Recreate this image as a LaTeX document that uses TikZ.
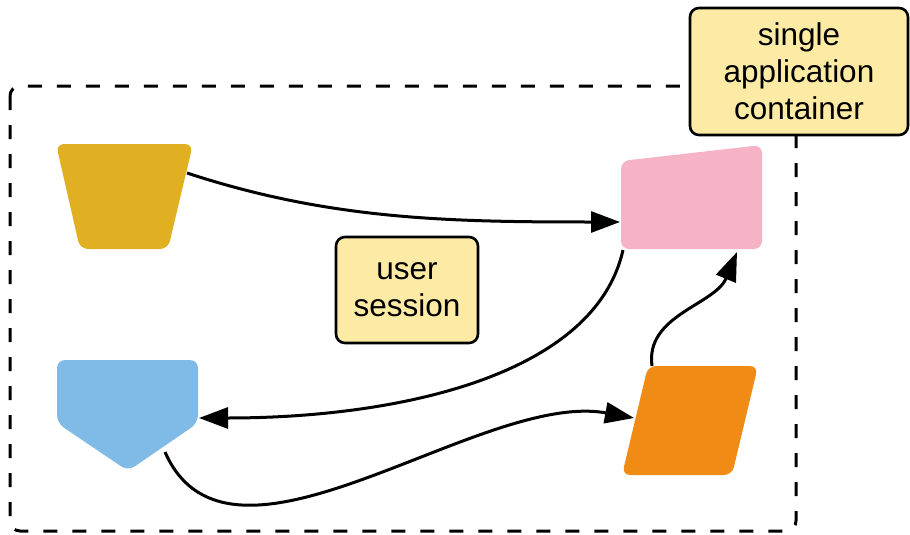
\documentclass[tikz,border=0pt]{standalone}
\usepackage{fontspec}
\setmainfont{Liberation Sans}
\usetikzlibrary{arrows.meta}
\definecolor{cyellow}{HTML}{E0B022}
\definecolor{cblue}{HTML}{80BAE6}
\definecolor{cpink}{HTML}{F6B3C6}
\definecolor{corange}{HTML}{F08B16}
\definecolor{clabel}{HTML}{FDEBA5}
\begin{document}
\begin{tikzpicture}[x=1pt,y=-1pt,
  shapefill/.style={rounded corners=8pt},
  labelbox/.style={draw=black, fill=clabel, line width=2.6pt, rounded corners=9pt,
    font=\fontsize{31.5pt}{37pt}\selectfont, align=center, inner sep=0pt},
  conn/.style={line width=3pt, -{Triangle[length=29pt,width=21pt]}},
]
\useasboundingbox (0,0) rectangle (910,535);
% container
\draw[line width=3pt, dash pattern=on 14pt off 15pt, rounded corners=10pt] (10,86) rectangle (796,531);
% shapes
\fill[cyellow, shapefill] (56,144) -- (193,144) -- (168,249) -- (80,249) -- cycle;
\fill[cpink, shapefill] (621,161) -- (762,145) -- (762,249) -- (621,249) -- cycle;
\fill[corange, shapefill] (648,366) -- (758,366) -- (732,475) -- (622,475) -- cycle;
\fill[cblue, shapefill] (57,360) -- (198,360) -- (198,423) -- (128,471) -- (57,423) -- cycle;
% anchors
\coordinate (ya) at (187,173);
\coordinate (pl) at (620,222);
\coordinate (pb) at (623,250);
\coordinate (bl) at (199,418);
\coordinate (br) at (165,452);
\coordinate (ol) at (634,418);
\coordinate (ot) at (652,366);
\coordinate (pbr) at (737,252);
% labels
\node[labelbox, minimum width=142pt, minimum height=106pt] (us) at (407,290) {user\\session};
\node[labelbox, minimum width=218pt, minimum height=127pt] (sac) at (799,71.5) {single\\application\\container};
% connectors
\draw[conn] (ya) .. controls (330,220) and (450,222) .. (pl);
\draw[conn] (pb) .. controls (595,375) and (400,418) .. (bl);
\draw[conn] (br) .. controls (230,600) and (480,390) .. (ol);
\draw[conn] (ot) .. controls (645,315) and (715,305) .. (pbr);
\end{tikzpicture}
\end{document}
